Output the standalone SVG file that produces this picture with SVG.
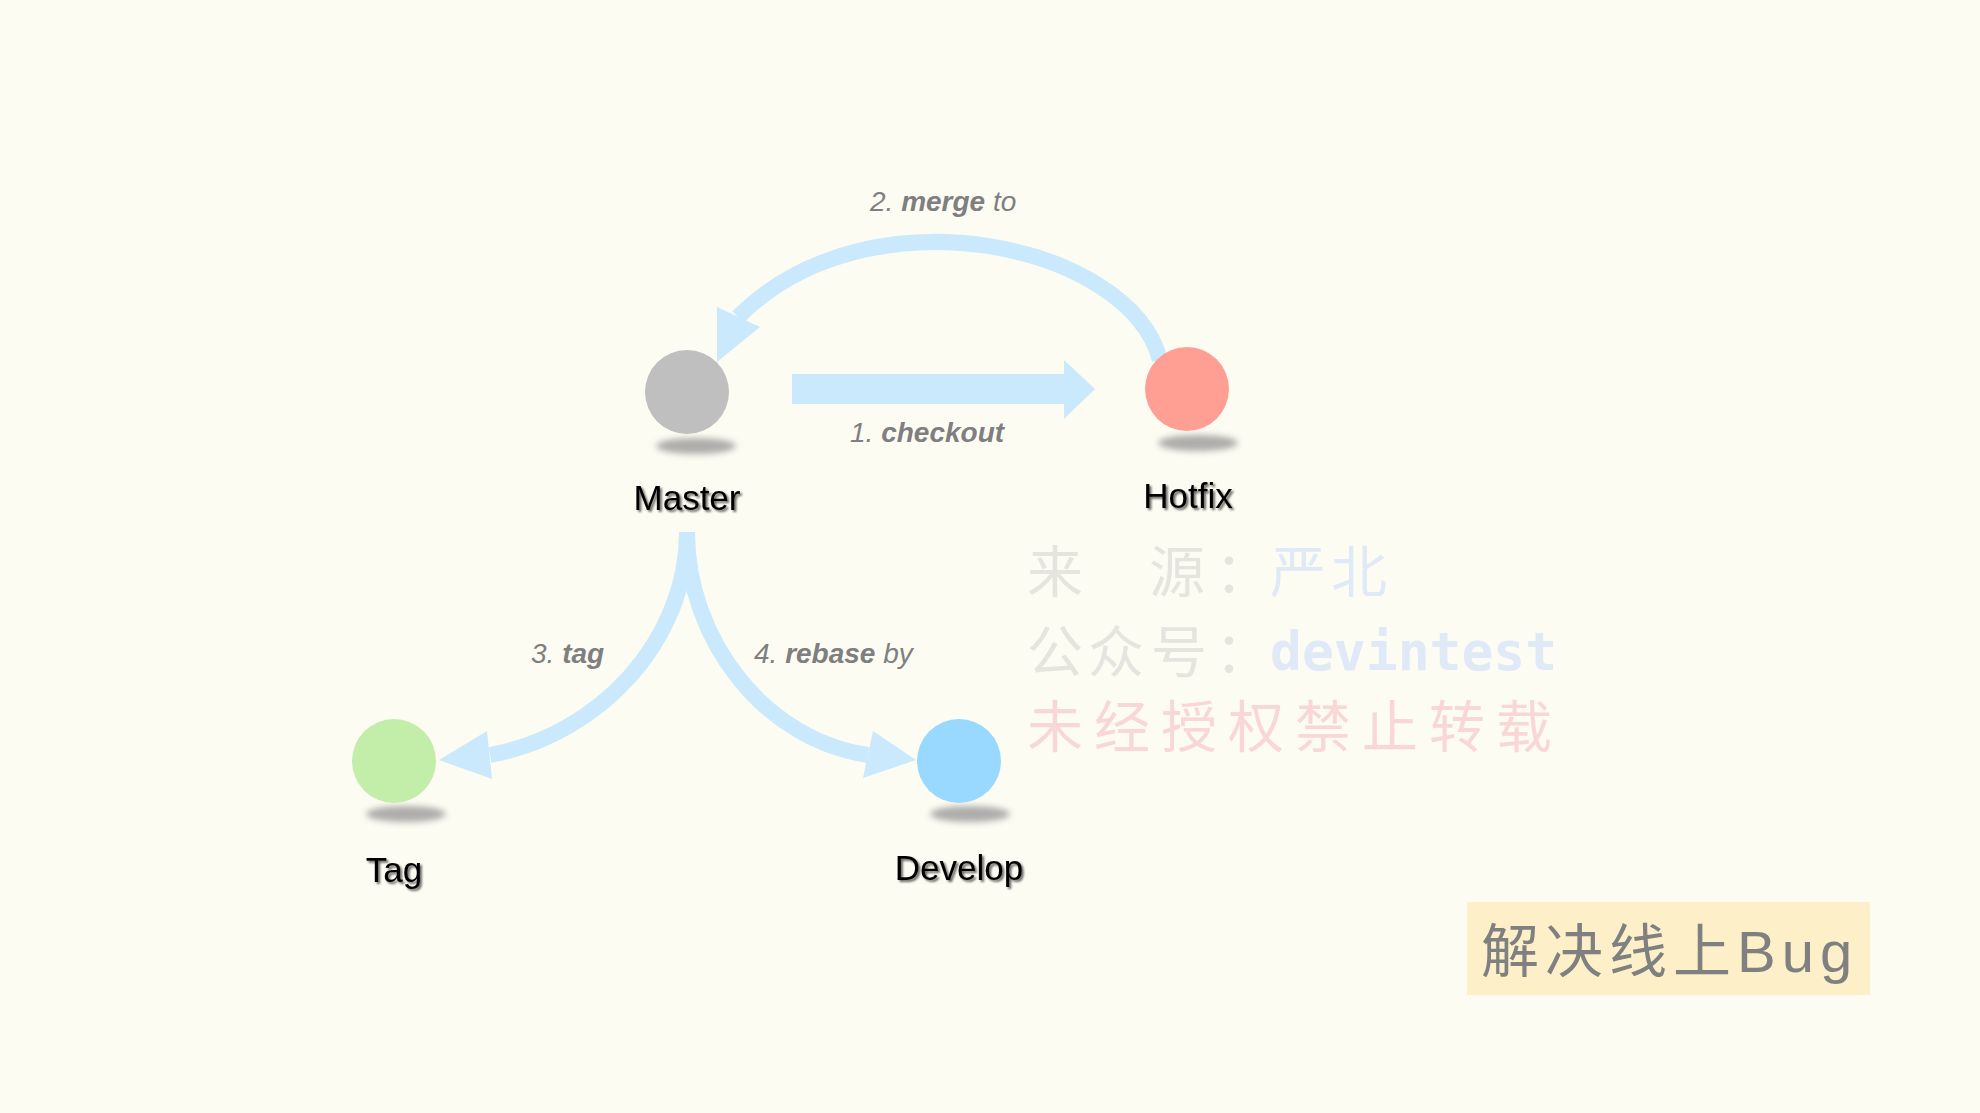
<svg xmlns="http://www.w3.org/2000/svg" width="1980" height="1113" viewBox="0 0 1980 1113">
  <defs>
    <filter id="blur" x="-50%" y="-100%" width="200%" height="300%">
      <feGaussianBlur stdDeviation="3"/>
    </filter>
    <filter id="tshadow" x="-20%" y="-30%" width="140%" height="160%">
      <feDropShadow dx="2" dy="2" stdDeviation="1.2" flood-color="#000" flood-opacity="0.6"/>
    </filter>
  </defs>
  <style>
    .bg { fill: #fdfcf2; }
    .shadow { fill: #9a9a9a; opacity: 0.8; filter: url(#blur); }
    .label { font-family: "Liberation Sans", Arial, sans-serif; font-size: 35px; fill: #000; text-anchor: middle; filter: url(#tshadow); }
    .edge { fill: none; stroke: #cbe9fc; stroke-width: 16; }
    .head { fill: #cbe9fc; stroke: none; }
    .elabel { font-family: "Liberation Sans", Arial, sans-serif; font-size: 28px; font-style: italic; fill: #7f7f7f; }
    .b { font-weight: bold; }
    .wm { font-family: "Noto Sans CJK SC", sans-serif; font-size: 56px; }
    .wmgray { fill: #e5e4de; }
    .wmblue { fill: #dfe9f8; }
    .wmpink { fill: #f9d7d7; }
    .mono { font-family: "DejaVu Sans Mono", "Liberation Mono", monospace; font-weight: bold; font-size: 53px; }
    .title { font-family: "Liberation Sans", "Noto Sans CJK SC", sans-serif; font-size: 58px; fill: #808080; letter-spacing: 6px; }
  </style>
  <rect class="bg" x="0" y="0" width="1980" height="1113"/>

  <g id="connectors">
    <polygon class="head" points="792,374 1064,374 1064,360 1095,389 1064,419 1064,404 792,404"/>
    <path class="edge" d="M1160,360 C1130,245 870,185 738,317"/>
    <polygon class="head" points="717,307 760,327 717,362"/>
    <path class="edge" d="M687,532 C687,640 600,735 490,755"/>
    <polygon class="head" points="487,731 492,779 439,760"/>
    <path class="edge" d="M687,532 C687,640 765,740 868,755"/>
    <polygon class="head" points="873,731 863,778 916,760"/>
    <text class="elabel" x="850" y="442">1. <tspan class="b">checkout</tspan></text>
    <text class="elabel" x="870" y="211">2. <tspan class="b">merge</tspan> to</text>
    <text class="elabel" x="531" y="663">3. <tspan class="b">tag</tspan></text>
    <text class="elabel" x="754" y="663">4. <tspan class="b">rebase</tspan> by</text>
  </g>

  <g id="node-master">
    <ellipse class="shadow" cx="696" cy="446" rx="40" ry="8"/>
    <circle cx="687" cy="392" r="42" fill="#bfbfbf"/>
    <text class="label" x="687" y="510">Master</text>
  </g>
  <g id="node-hotfix">
    <ellipse class="shadow" cx="1198" cy="443" rx="40" ry="8"/>
    <circle cx="1187" cy="389" r="42" fill="#ff9f94"/>
    <text class="label" x="1188" y="508">Hotfix</text>
  </g>
  <g id="node-tag">
    <ellipse class="shadow" cx="406" cy="814" rx="40" ry="8"/>
    <circle cx="394" cy="761" r="42" fill="#c2eeaa"/>
    <text class="label" x="394" y="882">Tag</text>
  </g>
  <g id="node-develop">
    <ellipse class="shadow" cx="970" cy="814" rx="40" ry="8"/>
    <circle cx="959" cy="761" r="42" fill="#99d9ff"/>
    <text class="label" x="959" y="880">Develop</text>
  </g>

  <g id="watermark">
    <text class="wm wmgray" x="1027 1149 1215" y="592">来源：</text>
    <text class="wm wmblue" x="1270 1331" y="592">严北</text>
    <text class="wm wmgray" x="1027 1088 1151 1215" y="672">公众号：</text>
    <text class="mono wmblue" x="1270" y="670">devintest</text>
    <text class="wm wmpink" x="1027" y="747" letter-spacing="11">未经授权禁止转载</text>
  </g>

  <g id="title">
    <rect x="1467" y="902" width="403" height="93" fill="#fdf0c9"/>
    <text class="title" x="1481" y="972">解决线上Bug</text>
  </g>
</svg>
